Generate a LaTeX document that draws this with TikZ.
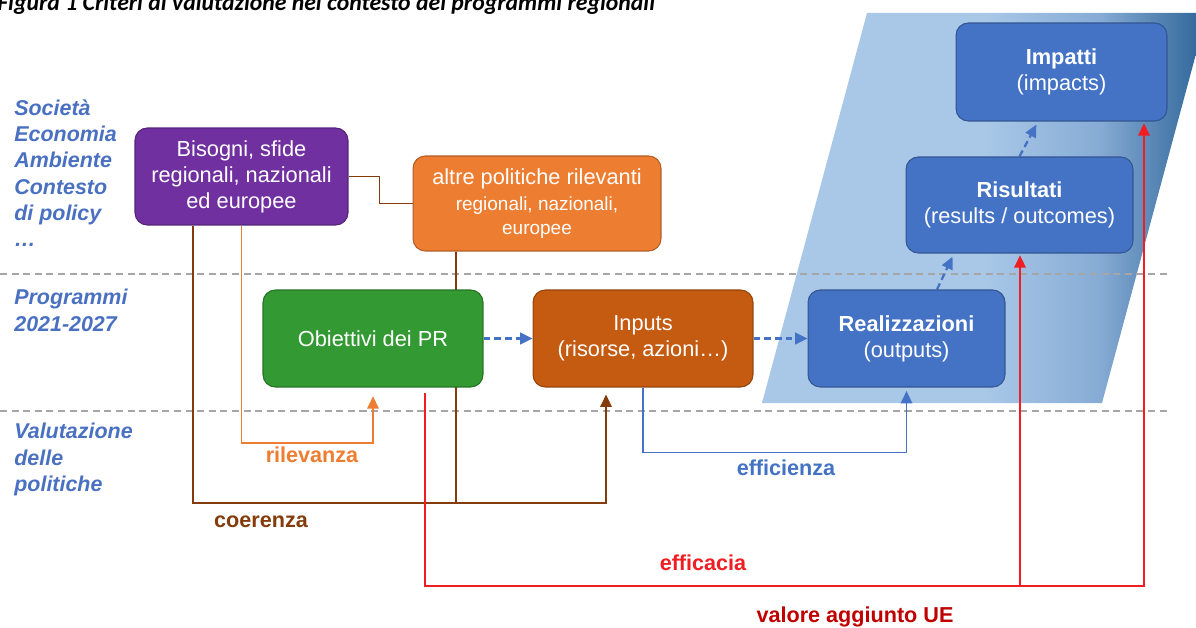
\documentclass[tikz,border=0pt]{standalone}
\usepackage{fontspec}
\setmainfont{Liberation Sans}
\newfontfamily\titlefont{Carlito}
\usepackage{xcolor}
\usepackage{tikz}
\usetikzlibrary{positioning,arrows.meta,backgrounds}

\definecolor{needpurple}{HTML}{7030A0}
\definecolor{policyorange}{HTML}{ED7D31}
\definecolor{goalgreen}{HTML}{339933}
\definecolor{inputbrown}{HTML}{C55A11}
\definecolor{resultblue}{HTML}{4472C4}
\definecolor{labelblue}{HTML}{4A70C2}
\definecolor{cohbrown}{HTML}{843C0C}
\definecolor{sepgray}{HTML}{A6A6A6}
\definecolor{effred}{HTML}{F01E23}
\definecolor{addred}{HTML}{C00000}
\definecolor{gradlight}{HTML}{A9C8E8}
\definecolor{gradmid}{HTML}{86ABD4}
\definecolor{graddark}{HTML}{2C6397}

% tikz maps 25bp..75bp of a shading onto the path
\pgfdeclarehorizontalshading{chainshade}{100bp}{color(0bp)=(gradlight); color(50bp)=(gradlight); color(63bp)=(gradmid); color(75bp)=(graddark); color(100bp)=(graddark)}

\newcommand{\subtxt}{\fontsize{10.8}{13}\selectfont}

\begin{document}
\begin{tikzpicture}[x=0.02cm, y=-0.02cm, every node/.style={font=\fontsize{12.4}{14.8}\selectfont},
    stage/.style={rectangle, rounded corners=7pt, draw=#1!75!black, line width=0.6pt, fill=#1, text=white, align=center, minimum height=1.94cm},
    sidelabel/.style={anchor=north west, inner sep=0pt, align=left, text=labelblue, font=\fontsize{12.2}{15}\selectfont\bfseries\itshape},
    critlabel/.style={font=\fontsize{12.3}{14}\selectfont\bfseries},
    sepline/.style={sepgray, line width=1.2pt, dash pattern=on 4pt off 2.6pt},
    flow/.style={resultblue, line width=1.3pt, dash pattern=on 3.8pt off 2.3pt, -{Triangle[length=7pt,width=6.5pt]}},
    cohlink/.style={cohbrown, line width=1.1pt},
    rellink/.style={policyorange, line width=1.1pt, -{Triangle[length=7pt,width=6.5pt]}},
    efflink/.style={resultblue, line width=1.1pt, -{Triangle[length=7pt,width=6.5pt]}},
    redlink/.style={effred, line width=1.1pt, -{Triangle[length=7pt,width=6.5pt]}}]
    \useasboundingbox (0,0) rectangle (1196,628);
    \node[anchor=base west, inner sep=0pt, font=\titlefont\fontsize{13.5}{15}\selectfont\bfseries\itshape] (title) at (-3,11) {Figura 1 Criteri di valutazione nel contesto dei programmi regionali};

    \node[sidelabel] (society) at (14,99) {Società\\Economia\\Ambiente\\Contesto\\di policy\\…};
    \node[sidelabel] (programmes) at (14,289) {Programmi\\2021-2027};
    \node[sidelabel] (evaluation) at (14,423) {Valutazione\\delle\\politiche};

    \node[stage=needpurple, minimum width=4.26cm] (needs) at (241.5,176.5) {Bisogni, sfide\\regionali, nazionali\\ed europee};
    \node[stage=policyorange, minimum width=4.96cm, minimum height=1.9cm] (otherpol) at (537,203.5) {altre politiche rilevanti\\{\subtxt regionali, nazionali,}\\[-1pt]{\subtxt europee}};
    \node[stage=goalgreen, minimum width=4.4cm] (goals) at (373,338.5) {Obiettivi dei PR};
    \node[stage=inputbrown, minimum width=4.4cm, right=0.98cm of goals] (inputs) {Inputs\\(risorse, azioni…)};
    \node[stage=resultblue, minimum width=3.94cm, right=1.08cm of inputs] (outputs) {\textbf{Realizzazioni}\\(outputs)};
    \node[stage=resultblue, minimum width=4.54cm, minimum height=1.92cm] (results) at (1019.5,205) {\textbf{Risultati}\\(results / outcomes)};
    \node[stage=resultblue, minimum width=4.22cm, minimum height=1.96cm] (impacts) at (1061.5,72) {\textbf{Impatti}\\(impacts)};

    \node[critlabel, text=policyorange] (relevance) at (312,455) {rilevanza};
    \node[critlabel, text=cohbrown] (coherence) at (261,522) {coerenza};
    \node[critlabel, text=resultblue] (efficiency) at (786,468) {efficienza};
    \node[critlabel, text=effred] (effectiveness) at (703,563) {efficacia};
    \node[critlabel, text=addred] (addedvalue) at (855,617) {valore aggiunto UE};

    \coordinate (relcorner) at (373,443);
    \coordinate (cohjoin) at (456,503);
    \coordinate (effjoin) at (1020,586);

    \begin{scope}[on background layer]
    \shade[shading=chainshade] (762,403) -- (867,13) -- (1207,13) -- (1102,403) -- cycle;
    \draw[sepline] (0,274) -- (1167,274);
    \draw[sepline] (0,411) -- (1167,411);
    % chain of the programme
    \draw[flow] (goals) -- (inputs);
    \draw[flow] (inputs) -- (outputs);
    \draw[flow, shorten >=2pt] ([xshift=0.61cm]outputs.north) -- ([xshift=-1.31cm]results.south);
    \draw[flow, shorten >=2pt] (results.north) -- ([xshift=-0.47cm]impacts.south);
    % criteria
    \draw[cohlink, line width=0.9pt] (needs.east) -- ++(31,0) |- (otherpol.west);
    \draw[cohlink, -{Triangle[length=7pt,width=6.5pt]}, shorten >=4pt] ([xshift=-0.97cm]needs.south) |- (cohjoin) -| ([xshift=-0.74cm]inputs.south);
    \draw[cohlink] ([xshift=-1.62cm]otherpol.south) -- (cohjoin);
    \draw[rellink, shorten >=5pt] (needs.south) |- (relcorner) -- (goals.south);
    \draw[efflink, shorten >=2pt] (inputs.south) -- ++(0,65) -| (outputs.south);
    \draw[redlink, shorten >=1pt] ([xshift=1.04cm,yshift=-0.1cm]goals.south) |- (effjoin) -- (effjoin |- results.south);
    \draw[redlink, shorten >=1pt] (effjoin) -| ([xshift=1.65cm]impacts.south);
    \end{scope}
\end{tikzpicture}
\end{document}
